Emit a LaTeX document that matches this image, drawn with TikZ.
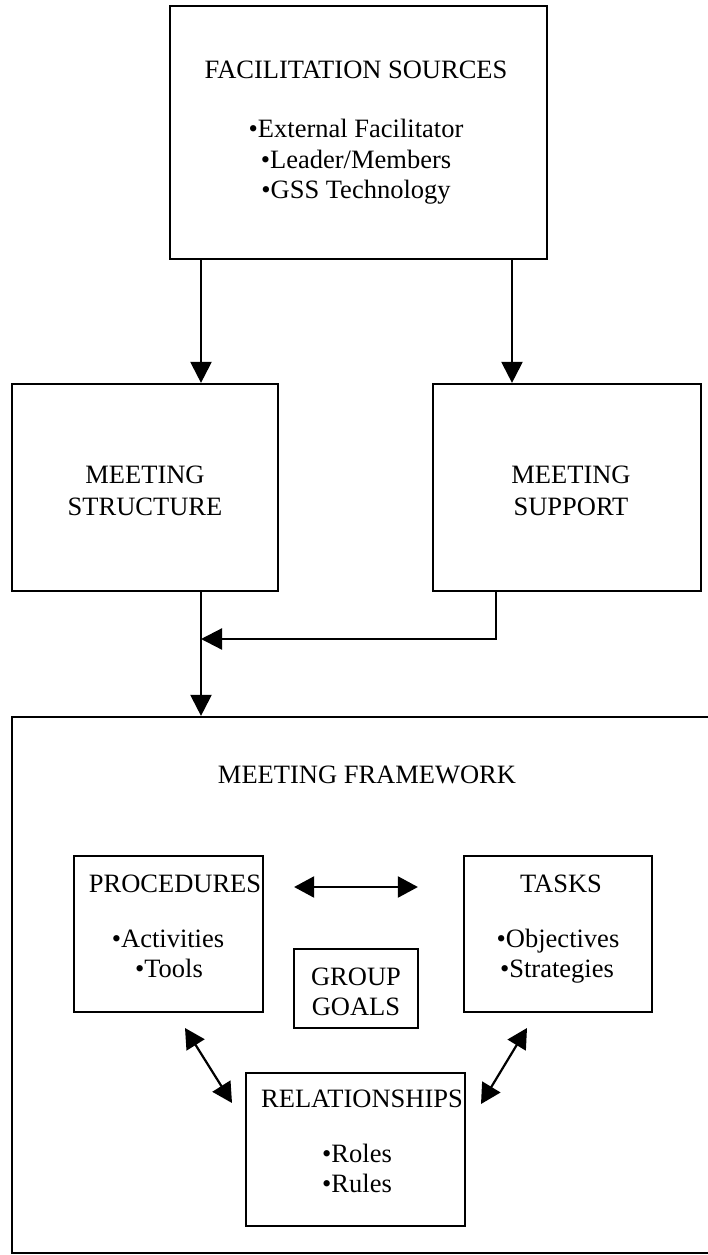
\documentclass[tikz,border=0pt]{standalone}
\usepackage{fontspec}
\setmainfont{Liberation Serif}
\usetikzlibrary{arrows.meta}
\begin{document}
\begin{tikzpicture}[x=1pt,y=-1pt,
  bx/.style={draw, line width=2.2pt, inner sep=0pt},
  txt/.style={anchor=base, inner sep=0pt, font=\fontsize{26.5}{31}\selectfont},
  arr/.style={line width=2.2pt, -{Triangle[length=21pt,width=21pt]}},
  darr/.style={line width=2.2pt, {Triangle[length=20pt,width=21pt]}-{Triangle[length=20pt,width=21pt]}}]
\useasboundingbox (0,0) rectangle (707,1255);
\fill[white] (0,0) rectangle (707,1255);

% boxes
\node[bx, minimum width=377pt, minimum height=253pt] (src) at (358.5,132.5) {};
\node[bx, minimum width=266pt, minimum height=207pt] (strc) at (145,487.5) {};
\node[bx, minimum width=268pt, minimum height=207pt] (supp) at (567,487.5) {};
\node[bx, minimum width=700pt, minimum height=536pt] (frame) at (362,985) {};
\node[bx, minimum width=189pt, minimum height=156pt] (proc) at (168.5,934) {};
\node[bx, minimum width=188pt, minimum height=156pt] (task) at (558,934) {};
\node[bx, minimum width=124pt, minimum height=79pt] (goal) at (356,988.5) {};
\node[bx, minimum width=219pt, minimum height=153pt] (rel) at (355.5,1149.5) {};

% texts
\node[txt] (s1) at (356,78) {FACILITATION SOURCES};
\node[txt] (s2) at (356,137) {•External Facilitator};
\node[txt] (s3) at (356,168) {•Leader/Members};
\node[txt] (s4) at (356,198) {•GSS Technology};

\node[txt] (m1) at (145,483) {MEETING};
\node[txt] (m2) at (145,515) {STRUCTURE};
\node[txt] (n1) at (571,483) {MEETING};
\node[txt] (n2) at (571,515) {SUPPORT};

\node[txt] (f1) at (367,783) {MEETING FRAMEWORK};

\node[txt] (p1) at (175,892) {PROCEDURES};
\node[txt] (p2) at (168,947) {•Activities};
\node[txt] (p3) at (169,977) {•Tools};

\node[txt] (k1) at (561,892) {TASKS};
\node[txt] (k2) at (558,947) {•Objectives};
\node[txt] (k3) at (557,977) {•Strategies};

\node[txt] (g1) at (356,985) {GROUP};
\node[txt] (g2) at (356,1015) {GOALS};

\node[txt] (r1) at (362,1107) {RELATIONSHIPS};
\node[txt] (r2) at (357,1162) {•Roles};
\node[txt] (r3) at (357,1192) {•Rules};

% connectors
\coordinate (a1) at (201,0);
\coordinate (a2) at (512,0);
\coordinate (a3) at (496,0);
\coordinate (jn) at (201,639);
\draw[arr] (src.south -| a1) -- (strc.north -| a1);
\draw[arr] (src.south -| a2) -- (supp.north -| a2);
\draw[arr] (strc.south -| a1) -- (frame.north -| a1);
\draw[arr] (supp.south -| a3) |- (jn);

\coordinate (hy) at (0,887);
\draw[darr, shorten <=30pt, shorten >=45pt] (proc.east |- hy) -- (task.west |- hy);

\coordinate (d1) at (185,1028);
\coordinate (d2) at (232,1103);
\coordinate (d3) at (527,1028);
\coordinate (d4) at (481,1104);
\draw[darr] (d1) -- (d2);
\draw[darr] (d3) -- (d4);
\end{tikzpicture}
\end{document}
